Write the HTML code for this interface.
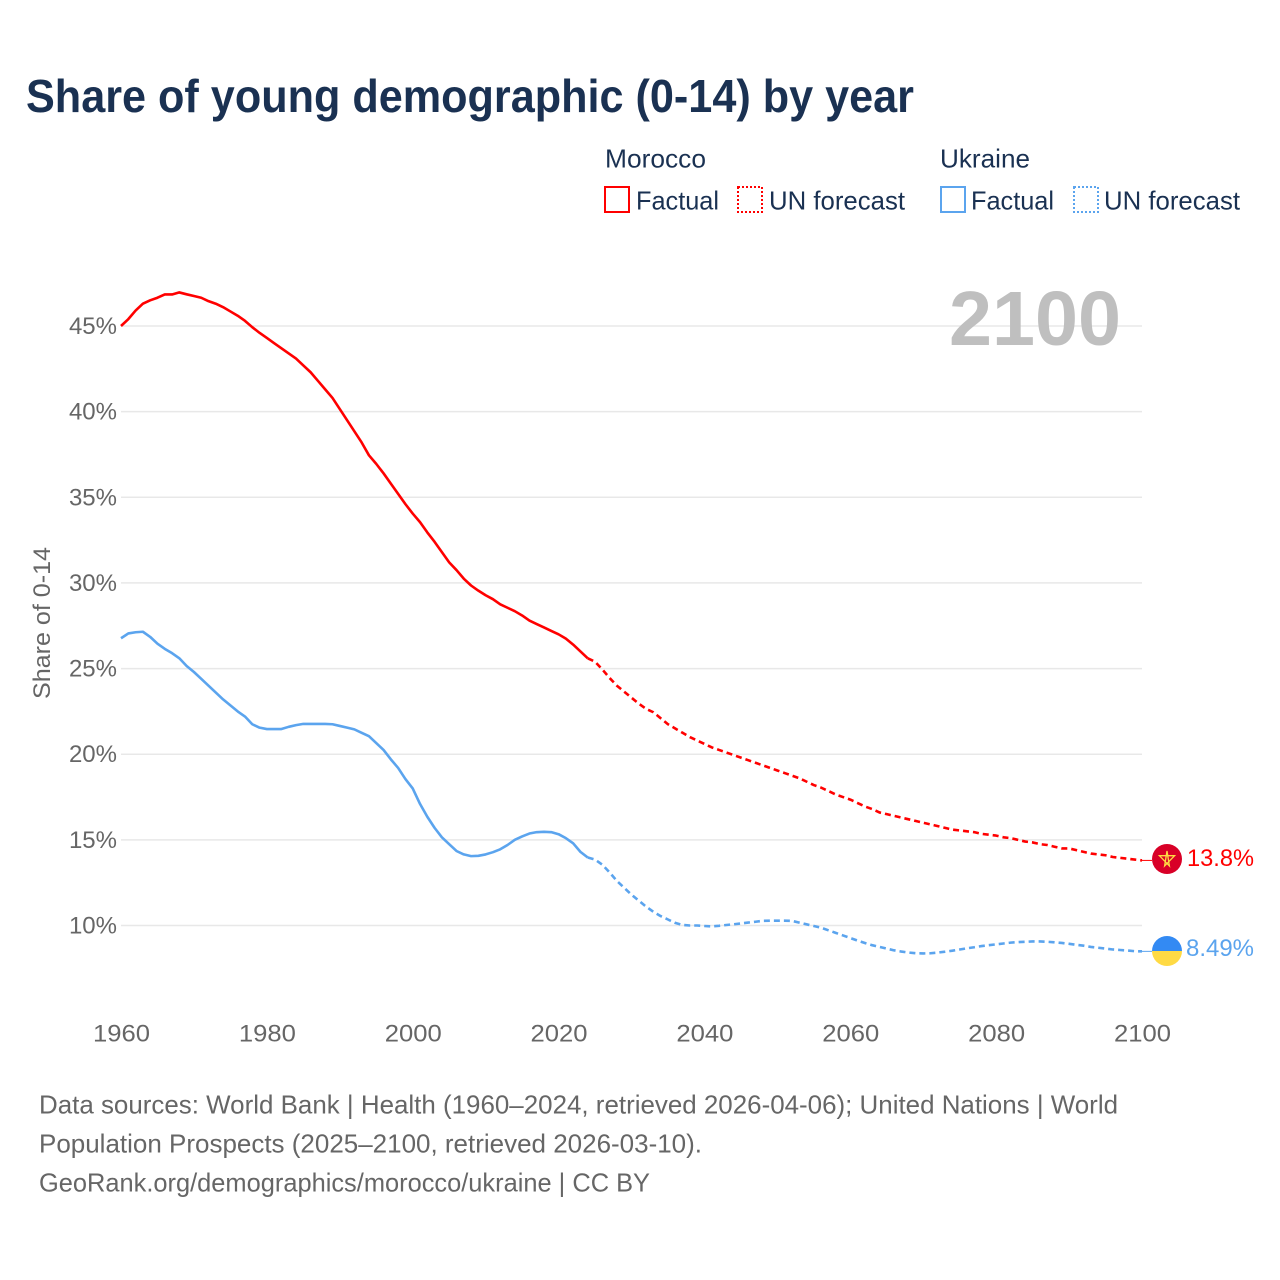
<!DOCTYPE html>
<html lang="en">
<head>
<meta charset="utf-8">
<title>Share of young demographic (0-14) by year</title>
<style>
html,body{margin:0;padding:0;background:#fff;width:1280px;height:1280px;overflow:hidden}
svg{display:block}
text{font-family:"Liberation Sans",sans-serif}
</style>
</head>
<body>
<svg id="chart" xmlns="http://www.w3.org/2000/svg" width="1280" height="1280" viewBox="0 0 1280 1280">
  <rect width="1280" height="1280" fill="#fff"/>
  <text x="26" y="112" font-size="46" font-weight="700" fill="#1a3152" textLength="888" lengthAdjust="spacingAndGlyphs">Share of young demographic (0-14) by year</text>

  <g font-size="26" fill="#1a3152">
    <text x="605" y="167.5" textLength="101" lengthAdjust="spacingAndGlyphs">Morocco</text>
    <rect x="605" y="187" width="24" height="25" fill="none" stroke="#ff0000" stroke-width="2"/>
    <text x="636" y="209.5" textLength="83" lengthAdjust="spacingAndGlyphs">Factual</text>
    <rect x="738" y="187" width="24" height="25" fill="none" stroke="#ff0000" stroke-width="2" stroke-dasharray="2 2"/>
    <text x="769" y="209.5" textLength="136" lengthAdjust="spacingAndGlyphs">UN forecast</text>
    <text x="940" y="167.5" textLength="90" lengthAdjust="spacingAndGlyphs">Ukraine</text>
    <rect x="941" y="187" width="24" height="25" fill="none" stroke="#5ba4ee" stroke-width="2"/>
    <text x="971" y="209.5" textLength="83" lengthAdjust="spacingAndGlyphs">Factual</text>
    <rect x="1074" y="187" width="24" height="25" fill="none" stroke="#5ba4ee" stroke-width="2" stroke-dasharray="2 2"/>
    <text x="1104" y="209.5" textLength="136" lengthAdjust="spacingAndGlyphs">UN forecast</text>
  </g>

  <g id="grid"></g>
  <g id="yticks"></g>
  <g id="xticks"></g>

  <text transform="translate(50,699) rotate(-90)" font-size="24" fill="#666" textLength="152" lengthAdjust="spacingAndGlyphs">Share of 0-14</text>

  <text x="949" y="345" font-size="77" font-weight="700" fill="#bfbfbf" textLength="172" lengthAdjust="spacingAndGlyphs">2100</text>

  <g id="series"></g>

  <g id="flag-morocco">
    <circle cx="1167" cy="859" r="15" fill="#d80027"/>
    <polygon points="1167,851 1169.4,866 1159.4,855.7 1174.6,855.7 1164.6,866" fill="none" stroke="#ffda44" stroke-width="1.3"/>
  </g>
  <g id="flag-ukraine">
    <path d="M1152 951a15 15 0 0 1 30 0z" fill="#338af3"/>
    <path d="M1152 951a15 15 0 0 0 30 0z" fill="#ffda44"/>
  </g>
  <text id="label-morocco" x="1187" y="866" font-size="24" fill="#ff0000" textLength="67" lengthAdjust="spacingAndGlyphs"></text>
  <text id="label-ukraine" x="1186" y="956" font-size="24" fill="#5ba4ee" textLength="68" lengthAdjust="spacingAndGlyphs"></text>

  <g font-size="26" fill="#666">
    <text x="39" y="1113.5" textLength="1079" lengthAdjust="spacingAndGlyphs">Data sources: World Bank | Health (1960–2024, retrieved 2026-04-06); United Nations | World</text>
    <text x="39" y="1152.5" textLength="663" lengthAdjust="spacingAndGlyphs">Population Prospects (2025–2100, retrieved 2026-03-10).</text>
    <text x="39" y="1191.5" textLength="611" lengthAdjust="spacingAndGlyphs">GeoRank.org/demographics/morocco/ukraine | CC BY</text>
  </g>
</svg>
<script>
const yTickValues = [10, 15, 20, 25, 30, 35, 40, 45];
const xTickYears = [1960, 1980, 2000, 2020, 2040, 2060, 2080, 2100];

const factualStartYear = 1960;
const forecastStartYear = 2024;

const moroccoFactual = [
  45.0, 45.4, 45.9, 46.3, 46.5, 46.65, 46.84, 46.84, 46.96, 46.85,
  46.75, 46.65, 46.45, 46.3, 46.1, 45.85, 45.6, 45.3, 44.93, 44.6,
  44.3, 44.0, 43.7, 43.4, 43.1, 42.7, 42.3, 41.8, 41.3, 40.8,
  40.15, 39.5, 38.85, 38.2, 37.45, 36.95, 36.4, 35.8, 35.2, 34.6,
  34.05, 33.55, 32.95, 32.4, 31.8, 31.2, 30.75, 30.25, 29.85, 29.55,
  29.28, 29.05, 28.75, 28.55, 28.35, 28.1, 27.8, 27.6, 27.4, 27.2,
  27.0, 26.75, 26.4, 26.0, 25.6
];
const moroccoForecast = [
  25.6, 25.4, 24.95, 24.45, 24.0, 23.65, 23.3, 22.95, 22.65, 22.45,
  22.1, 21.75, 21.5, 21.25, 21.0, 20.8, 20.6, 20.4, 20.25, 20.1,
  19.95, 19.8, 19.65, 19.5, 19.35, 19.2, 19.05, 18.9, 18.75, 18.6,
  18.4, 18.2, 18.05, 17.85, 17.65, 17.5, 17.35, 17.15, 16.95, 16.8,
  16.6, 16.5, 16.4, 16.3, 16.2, 16.1, 16.0, 15.9, 15.8, 15.7,
  15.6, 15.55, 15.5, 15.45, 15.35, 15.3, 15.25, 15.15, 15.1, 15.0,
  14.9, 14.85, 14.75, 14.7, 14.6, 14.5, 14.5, 14.4, 14.3, 14.2,
  14.15, 14.1, 14.0, 13.95, 13.9, 13.85, 13.8
];
const ukraineFactual = [
  26.77, 27.05, 27.12, 27.15, 26.85, 26.45, 26.15, 25.9, 25.6, 25.15,
  24.8, 24.4, 24.0, 23.6, 23.2, 22.85, 22.5, 22.2, 21.75, 21.55,
  21.47, 21.47, 21.47, 21.6, 21.7, 21.77, 21.77, 21.77, 21.77, 21.75,
  21.65, 21.55, 21.45, 21.25, 21.05, 20.65, 20.25, 19.7, 19.2, 18.55,
  18.0, 17.1, 16.35, 15.7, 15.15, 14.75, 14.35, 14.15, 14.05, 14.07,
  14.15, 14.28, 14.45, 14.7, 15.0, 15.2, 15.37, 15.45, 15.47, 15.45,
  15.33, 15.1, 14.8, 14.3, 13.97
];
const ukraineForecast = [
  13.97, 13.85, 13.55, 13.1, 12.6, 12.2, 11.8, 11.45, 11.1, 10.8,
  10.55, 10.35, 10.15, 10.03, 10.0, 10.0, 9.97, 9.95, 9.98, 10.03,
  10.07, 10.12, 10.17, 10.22, 10.27, 10.28, 10.28, 10.28, 10.27, 10.17,
  10.07, 9.97, 9.87, 9.72, 9.57, 9.42, 9.27, 9.12, 8.98, 8.85,
  8.75, 8.65, 8.55, 8.48, 8.42, 8.38, 8.37, 8.38, 8.42, 8.47,
  8.53, 8.6, 8.67, 8.73, 8.8, 8.85, 8.9, 8.95, 9.0, 9.03,
  9.05, 9.07, 9.07, 9.05, 9.02, 8.98, 8.93, 8.87, 8.82, 8.75,
  8.7, 8.65, 8.6, 8.57, 8.54, 8.5, 8.49
];
const moroccoEndLabel = "13.8%";
const ukraineEndLabel = "8.49%";

const SVGNS = "http://www.w3.org/2000/svg";
function xScale(year) { return 121 + (year - 1960) * (1142 - 121) / 140; }
function yScale(v) { return 925.5 - (v - 10) * (925.5 - 326) / 35; }
function linePath(values, startYear) {
  return values.map(function (v, i) {
    return (i ? "L" : "M") + xScale(startYear + i).toFixed(2) + " " + yScale(v).toFixed(2);
  }).join("");
}

const grid = document.getElementById("grid");
const yticks = document.getElementById("yticks");
const xticks = document.getElementById("xticks");
const series = document.getElementById("series");

yTickValues.forEach(function (v) {
  const line = document.createElementNS(SVGNS, "line");
  
  
  line.setAttribute("x1", 121);
  line.setAttribute("x2", 1142);
  line.setAttribute("y1", yScale(v));
  line.setAttribute("y2", yScale(v));
  line.setAttribute("stroke", "#e8e8e8");
  line.setAttribute("stroke-width", "1.5");
  grid.appendChild(line);

  const label = document.createElementNS(SVGNS, "text");
  
  
  label.setAttribute("x", 117);
  label.setAttribute("y", yScale(v) + 8);
  label.setAttribute("text-anchor", "end");
  label.setAttribute("font-size", "24");
  label.setAttribute("fill", "#666");
  label.textContent = v + "%";
  yticks.appendChild(label);
});

xTickYears.forEach(function (year) {
  const label = document.createElementNS(SVGNS, "text");
  
  
  label.setAttribute("x", xScale(year) + 0.5);
  label.setAttribute("y", 1041.5);
  label.setAttribute("text-anchor", "middle");
  label.setAttribute("font-size", "24");
  label.setAttribute("fill", "#666");
  label.setAttribute("textLength", "57");
  label.setAttribute("lengthAdjust", "spacingAndGlyphs");
  label.textContent = year;
  xticks.appendChild(label);
});

function addLine(name, values, startYear, color, dashed) {
  const path = document.createElementNS(SVGNS, "path");
  
  
  path.setAttribute("d", linePath(values, startYear));
  path.setAttribute("fill", "none");
  path.setAttribute("stroke", color);
  path.setAttribute("stroke-width", "2.6");
  path.setAttribute("stroke-linejoin", "round");
  if (dashed) path.setAttribute("stroke-dasharray", "6 4");
  series.appendChild(path);
}
function addConnector(name, value, color) {
  const line = document.createElementNS(SVGNS, "line");
  
  
  line.setAttribute("x1", xScale(2100));
  line.setAttribute("x2", 1152);
  line.setAttribute("y1", yScale(value));
  line.setAttribute("y2", yScale(value));
  line.setAttribute("stroke", color);
  line.setAttribute("stroke-width", "1");
  series.appendChild(line);
}

addLine("morocco-factual-line", moroccoFactual, factualStartYear, "#ff0000", false);
addLine("morocco-forecast-line", moroccoForecast, forecastStartYear, "#ff0000", true);
addLine("ukraine-factual-line", ukraineFactual, factualStartYear, "#5ba4ee", false);
addLine("ukraine-forecast-line", ukraineForecast, forecastStartYear, "#5ba4ee", true);
addConnector("morocco-end-connector", moroccoForecast[moroccoForecast.length - 1], "#ff0000");
addConnector("ukraine-end-connector", ukraineForecast[ukraineForecast.length - 1], "#5ba4ee");

document.getElementById("label-morocco").textContent = moroccoEndLabel;
document.getElementById("label-ukraine").textContent = ukraineEndLabel;
</script>
</body>
</html>
